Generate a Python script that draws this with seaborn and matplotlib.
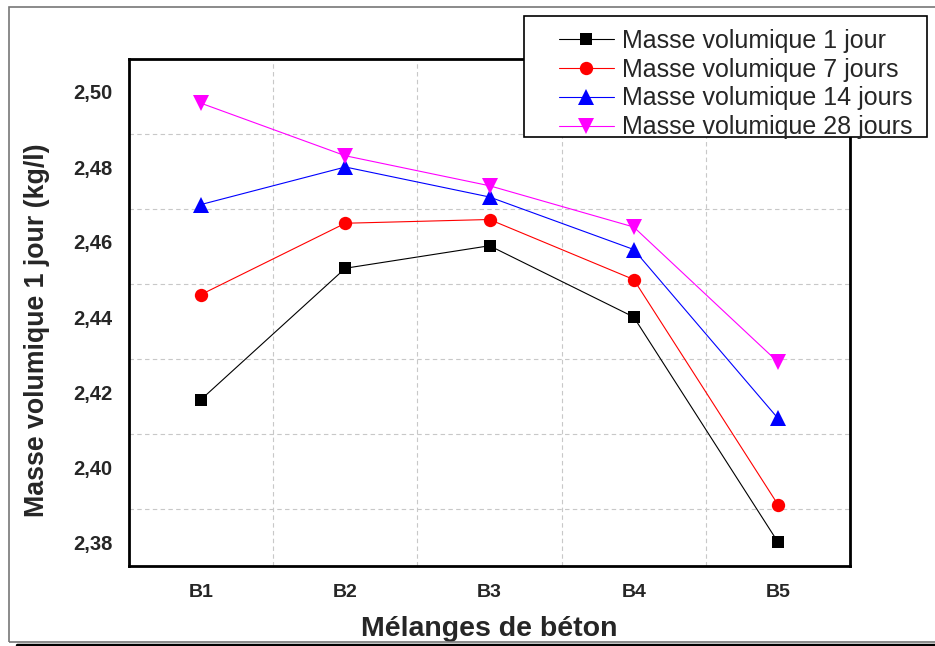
import numpy as np
import pandas as pd
import matplotlib
matplotlib.use("Agg")
import matplotlib.pyplot as plt
import seaborn as sns
from matplotlib.patches import Rectangle
from matplotlib.lines import Line2D

categories = ["B1", "B2", "B3", "B4", "B5"]
jour_1 = [2.418, 2.453, 2.459, 2.440, 2.380]
jours_7 = [2.446, 2.465, 2.466, 2.450, 2.390]
jours_14 = [2.470, 2.480, 2.472, 2.458, 2.413]
jours_28 = [2.497, 2.483, 2.475, 2.464, 2.428]
series_names = ["Masse volumique 1 jour", "Masse volumique 7 jours",
                "Masse volumique 14 jours", "Masse volumique 28 jours"]
y_tick_values = [2.38, 2.40, 2.42, 2.44, 2.46, 2.48, 2.50]
y_tick_labels = ["2,38", "2,40", "2,42", "2,44", "2,46", "2,48", "2,50"]

sns.set_style("white")
plt.rcParams["font.family"] = ["Liberation Sans", "DejaVu Sans"]

fig = plt.figure(figsize=(9.35, 6.46), dpi=100)
ax = fig.add_axes([129 / 935, 1 - 566 / 646, (850 - 129) / 935, (566 - 59) / 646])

pos = np.arange(1, len(categories) + 1)
styles = [
    dict(color="black", marker="s", markersize=8.6),
    dict(color="red", marker="o", markersize=9.6),
    dict(color="blue", marker="^", markersize=11),
    dict(color="magenta", marker="v", markersize=11),
]
for vals, name, st in zip([jour_1, jours_7, jours_14, jours_28], series_names, styles):
    df = pd.DataFrame({"x": pos, "y": vals})
    sns.lineplot(data=df, x="x", y="y", ax=ax, label=name, linewidth=0.8,
                 markeredgewidth=0, **st)

ax.set_xlim(0.5, 5.5)
ax.set_ylim(2.3736, 2.5088)
ax.set_xticks(pos)
ax.set_xticklabels(categories, fontsize=14, fontweight="bold")
ax.set_xticks(pos[:-1] + 0.5, minor=True)
ax.set_yticks(y_tick_values)
ax.set_yticklabels(y_tick_labels, fontsize=14.5, fontweight="bold")
ax.set_yticks(np.array(y_tick_values[:-1]) + 0.0088, minor=True)
ax.tick_params(axis="both", which="both", length=0)
ax.tick_params(axis="x", pad=13)
ax.tick_params(axis="y", pad=12)
ax.grid(False)
ax.grid(which="minor", color="#c8c8c8", linestyle=(0, (4, 3)), linewidth=0.8)
for sp in ax.spines.values():
    sp.set_visible(True)
    sp.set_color("black")
    sp.set_linewidth(2)

ax.set_xlabel("Mélanges de béton", fontsize=20.5, fontweight="bold")
ax.xaxis.set_label_coords(0.5, -(636 - 566) / (566 - 59))
ax.xaxis.label.set_va("baseline")
ax.set_ylabel("Masse volumique 1 jour (kg/l)", fontsize=19.3, fontweight="bold")
ax.yaxis.set_label_coords(-(129 - 50) / 721, (566 - 330) / (566 - 59))

# legend frame drawn as a rectangle (reference box is wider on the left)
ax.add_patch(Rectangle((524 / 935, 1 - 137 / 646), (927 - 524) / 935, (137 - 16) / 646,
                       transform=fig.transFigure, facecolor="white",
                       edgecolor="black", linewidth=1.2, clip_on=False, zorder=9))
leg = ax.legend(loc="upper right", bbox_to_anchor=(913 / 935, 1 - 29 / 646),
                bbox_transform=fig.transFigure, fontsize=18, frameon=False,
                handlelength=2.2, handletextpad=0.35, labelspacing=0.19,
                borderpad=0, borderaxespad=0)
leg.set_zorder(10)

# outer frame
fig.patches.append(Rectangle((9 / 935, 1 - 642 / 646), 1.0, (642 - 7) / 646,
                             transform=fig.transFigure, fill=False,
                             edgecolor="#777777", linewidth=1.2))
fig.lines.append(Line2D([17 / 935, 1.0], [1 - 644.5 / 646, 1 - 644.5 / 646],
                        transform=fig.transFigure, color="black", linewidth=2.5))

fig.savefig("out.png", dpi=100)
